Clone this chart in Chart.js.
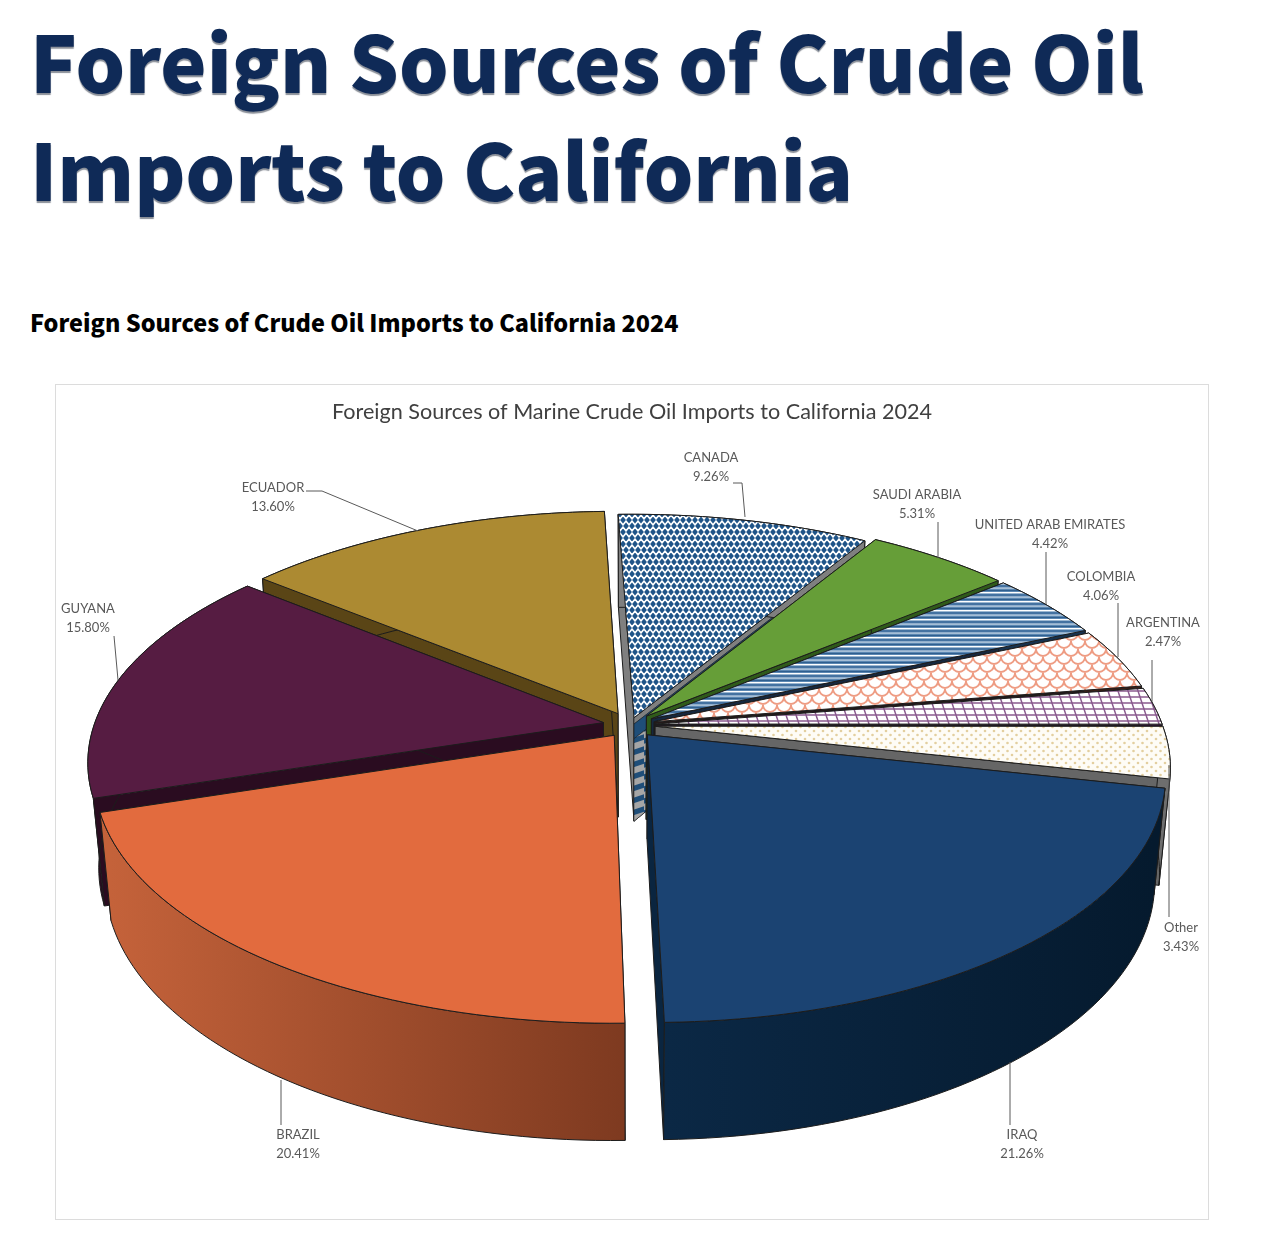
<!DOCTYPE html>
<html>
<head>
<meta charset="utf-8">
<title>Foreign Sources of Crude Oil Imports to California</title>
<script src="https://cdn.jsdelivr.net/npm/chart.js@4/dist/chart.umd.min.js"></script>
<style>
    html, body { margin: 0; padding: 0; background: #fff; overflow: hidden; }
    h1 {
        position: absolute; left: 30px; top: 5px; margin: 0; width: 1230px;
        font: 900 78px/108px "Noto Sans CJK SC", "Noto Sans", sans-serif;
        color: #0f2a57; text-shadow: 0 2px 1px #8a8f98;
    }
    h2 {
        position: absolute; left: 30px; top: 305px; margin: 0;
        font: 900 23.4px/34px "Noto Sans CJK SC", "Noto Sans", sans-serif;
        color: #000;
    }
    #chartBox { position: absolute; left: 55px; top: 384px; width: 1152px; height: 834px; border: 1px solid #dcdcdc; }
    canvas { display: block; filter: blur(0.4px); }
</style>
</head>
<body>
<h1>Foreign Sources of Crude Oil<br>Imports to California</h1>
<h2>Foreign Sources of Crude Oil Imports to California 2024</h2>
<div id="chartBox"><canvas id="oilChart" width="1152" height="834"></canvas></div>

<script>
// Chart data
const categories = ['CANADA', 'SAUDI ARABIA', 'UNITED ARAB EMIRATES', 'COLOMBIA', 'ARGENTINA', 'Other', 'IRAQ', 'BRAZIL', 'GUYANA', 'ECUADOR'];
const shares = [9.26, 5.31, 4.42, 4.06, 2.47, 3.43, 21.26, 20.41, 15.80, 13.60];
const chartTitle = 'Foreign Sources of Marine Crude Oil Imports to California 2024';

// Slice explosion, px
const sliceOffsets = [9, 14, 14, 14, 14, 14, 15, 15, 15, 15];

// Wall colours: start radial wall, end radial wall, outer wall left and right
const wallStart = ['#7f7f7f', '#2f5a1a', '#16283f', '#241a1a', '#241a24', '#666666', '#0a2540', '#8a4325', '#2a0c20', '#5a4516'];
const wallEnd = ['#1f4e79', '#2f5a1a', '#16283f', '#241a1a', '#241a24', '#666666', '#0a2540', '#8a4325', '#2a0c20', '#5a4516'];
const outerLeft = ['#7f7f7f', '#2f5a1a', '#16324f', '#3a2018', '#2c1230', '#6e6e6e', '#0b2845', '#c4623a', '#2a0c20', '#5a4516'];
const outerRight = ['#7f7f7f', '#2f5a1a', '#16324f', '#3a2018', '#2c1230', '#6e6e6e', '#051a2e', '#7e3a20', '#2a0c20', '#5a4516'];

// Label placement inside the canvas: centre x, first line y
const labelX = [655, 861, 994, 1045, 1107, 1125, 966, 242, 32, 217];
const labelY = [73, 110, 140, 192, 238, 543, 750, 750, 224, 103];

// Leader lines inside the canvas
const leaders = [
    [[677, 98], [686, 98], [689, 132]],
    [[882, 137], [882, 173]],
    [[990, 167], [990, 219]],
    [[1062, 218], [1062, 272]],
    [[1096, 275], [1096, 317]],
    [[1113, 380], [1113, 532]],
    [[954, 677], [954, 740]],
    [[225, 695], [225, 740]],
    [[58, 251], [62, 295]],
    [[250, 106], [266, 106], [362, 146]]
];

// Perspective of the pie plane
const view = { rx: 508, ry: 238, depth: 106, persp: 0.16, perspX: 0.007, depthPersp: 0.02, shearX: 0.075, shearY: -0.015, shiftX: -2 };

function tile(w, h, paint) {
    const c = document.createElement('canvas');
    c.width = w;
    c.height = h;
    const g = c.getContext('2d');
    paint(g);
    return document.createElement('canvas').getContext('2d').createPattern(c, 'repeat');
}

function diamond(g, x, y, rx, ry) {
    g.beginPath();
    g.moveTo(x, y - ry);
    g.lineTo(x + rx, y);
    g.lineTo(x, y + ry);
    g.lineTo(x - rx, y);
    g.closePath();
    g.fill();
}

const canadaFill = tile(12, 12, g => {
    g.fillStyle = '#ffffff';
    g.fillRect(0, 0, 12, 12);
    g.fillStyle = '#1f5488';
    [[3, 3], [9, 3], [0, 9], [6, 9], [12, 9]].forEach(p => diamond(g, p[0], p[1], 2.9, 3.5));
});

const uaeFill = tile(8, 9, g => {
    g.fillStyle = '#5b87b2';
    g.fillRect(0, 0, 8, 9);
    g.fillStyle = '#ffffff';
    g.fillRect(0, 0, 8, 1.4);
    g.fillStyle = '#c5d6e6';
    g.fillRect(0, 4.5, 8, 1.2);
    g.fillStyle = '#2f5f8f';
    g.fillRect(0, 2.5, 8, 1);
    g.fillRect(0, 7, 8, 1);
});

const colombiaFill = tile(14, 16, g => {
    g.fillStyle = '#ffffff';
    g.fillRect(0, 0, 14, 16);
    g.strokeStyle = '#ee9c83';
    g.lineWidth = 1.8;
    [[0, 0], [14, 0], [7, 8], [0, 16], [14, 16], [7, -8]].forEach(p => {
        g.beginPath();
        g.arc(p[0], p[1], 7, 0, Math.PI);
        g.stroke();
    });
});

const argentinaFill = tile(10, 30, g => {
    g.fillStyle = '#ffffff';
    g.fillRect(0, 0, 10, 30);
    g.strokeStyle = '#8a5a8e';
    g.lineWidth = 1.5;
    [-10, 0, 10].forEach(x => {
        g.beginPath();
        g.moveTo(x, 0);
        g.lineTo(x + 10, 30);
        g.stroke();
    });
    [0, 6, 12, 18, 24, 30].forEach(y => {
        g.beginPath();
        g.moveTo(0, y);
        g.lineTo(10, y);
        g.stroke();
    });
});

const otherFill = tile(9, 8, g => {
    g.fillStyle = '#fefcf6';
    g.fillRect(0, 0, 9, 8);
    g.fillStyle = '#e3cf9f';
    [[2, 2], [6.5, 6]].forEach(p => {
        g.beginPath();
        g.arc(p[0], p[1], 1.3, 0, Math.PI * 2);
        g.fill();
    });
});

const wallStripes = tile(12, 12, g => {
    g.fillStyle = '#a6a6a6';
    g.fillRect(0, 0, 12, 12);
    g.strokeStyle = '#1f4e79';
    g.lineWidth = 5;
    g.beginPath();
    g.moveTo(-3, 9);
    g.lineTo(15, 3);
    g.stroke();
});

const sliceColors = [canadaFill, '#669e38', uaeFill, colombiaFill, argentinaFill, otherFill, '#1b4372', '#e26b3e', '#561c42', '#ac8a32'];

// Bands of the Canada end wall, top to bottom
const canadaBands = [[0, 0.06, '#7f7f7f'], [0.06, 0.2, '#1f4e79'], [0.2, 1, wallStripes]];

// Draws the arcs laid out by Chart.js as tilted solid slices
const solidPie = {
    id: 'solidPie',
    beforeDatasetDraw(chart, args) {
        const ctx = chart.ctx;
        const arcs = chart.getDatasetMeta(args.index).data;

        const order = arcs.map((el, i) => i).sort((p, q) => midSin(arcs[p]) - midSin(arcs[q]));
        order.forEach(i => drawSlice(ctx, arcs[i], i));
        return false;
    },
    afterDraw(chart) {
        const ctx = chart.ctx;
        ctx.save();
        ctx.strokeStyle = '#595959';
        ctx.lineWidth = 1;
        leaders.forEach(path => {
            ctx.beginPath();
            path.forEach((p, i) => i ? ctx.lineTo(p[0], p[1]) : ctx.moveTo(p[0], p[1]));
            ctx.stroke();
        });

        ctx.fillStyle = '#595959';
        ctx.font = '13px Lato, sans-serif';
        ctx.textAlign = 'center';
        ctx.textBaseline = 'middle';
        categories.forEach((name, i) => {
            ctx.fillText(name, labelX[i], labelY[i]);
            ctx.fillText(shares[i].toFixed(2) + '%', labelX[i], labelY[i] + 19);
        });
        ctx.restore();
    }
};

function midSin(el) {
    return Math.sin((el.startAngle + el.endAngle) / 2);
}

function project(el, px, py, z) {
    const u = px / el.outerRadius;
    const v = py / el.outerRadius;
    const w = 1 - view.persp * v + view.perspX * u + view.depthPersp * z;
    return [
        el.x + view.shiftX + (view.rx * u + view.shearX * view.ry * v) / w,
        el.y + (view.ry * v + view.shearY * view.rx * u + view.depth * z) / w
    ];
}

function tracePolygon(ctx, pts, fill, stroke, width) {
    ctx.beginPath();
    pts.forEach((p, i) => i ? ctx.lineTo(p[0], p[1]) : ctx.moveTo(p[0], p[1]));
    ctx.closePath();
    ctx.fillStyle = fill;
    ctx.fill();
    ctx.strokeStyle = stroke;
    ctx.lineWidth = width;
    ctx.lineJoin = 'round';
    ctx.stroke();
}

function drawSlice(ctx, el, i) {
    const mid = (el.startAngle + el.endAngle) / 2;
    const ox = Math.cos(mid) * el.options.offset;
    const oy = Math.sin(mid) * el.options.offset;
    const line = el.options.borderColor;
    const width = el.options.borderWidth;

    const rimPoint = (a, z) => project(el, ox + el.outerRadius * Math.cos(a), oy + el.outerRadius * Math.sin(a), z);
    const rim = z => {
        const pts = [];
        const steps = Math.ceil((el.endAngle - el.startAngle) * 40);
        for (let s = 0; s <= steps; s++) {
            pts.push(rimPoint(el.startAngle + (el.endAngle - el.startAngle) * s / steps, z));
        }
        return pts;
    };
    const apex = z => project(el, ox, oy, z);

    const top = rim(0);
    const bottom = rim(1);

    tracePolygon(ctx, [apex(0), top[0], bottom[0], apex(1)], wallStart[i], line, width);
    tracePolygon(ctx, [apex(0), rimPoint(el.endAngle, 0), rimPoint(el.endAngle, 1), apex(1)], wallEnd[i], line, width);
    if (i === 0) {
        canadaBands.forEach(b => {
            tracePolygon(ctx, [apex(b[0]), rimPoint(el.endAngle, b[0]), rimPoint(el.endAngle, b[1]), apex(b[1])], b[2], line, 0.5);
        });
    }

    const xs = bottom.map(p => p[0]);
    const grad = ctx.createLinearGradient(Math.min(...xs), 0, Math.max(...xs), 0);
    grad.addColorStop(0, outerLeft[i]);
    grad.addColorStop(1, outerRight[i]);
    tracePolygon(ctx, top.concat(bottom.slice().reverse()), grad, line, width);

    tracePolygon(ctx, [apex(0)].concat(top), el.options.backgroundColor, line, width);
}

const chart = new Chart(document.getElementById('oilChart'), {
    type: 'pie',
    data: {
        labels: categories,
        datasets: [{
            data: shares,
            backgroundColor: sliceColors,
            borderColor: '#1c1c1c',
            borderWidth: 1,
            offset: sliceOffsets
        }]
    },
    options: {
        responsive: false,
        animation: false,
        layout: { padding: { bottom: 204 } },
        plugins: {
            legend: { display: false },
            tooltip: { enabled: false },
            title: {
                display: true,
                text: chartTitle,
                color: '#404040',
                font: { family: 'Lato, sans-serif', size: 21.6, weight: 'normal' },
                padding: { top: 14, bottom: 10 }
            }
        }
    },
    plugins: [solidPie]
});
</script>
</body>
</html>
